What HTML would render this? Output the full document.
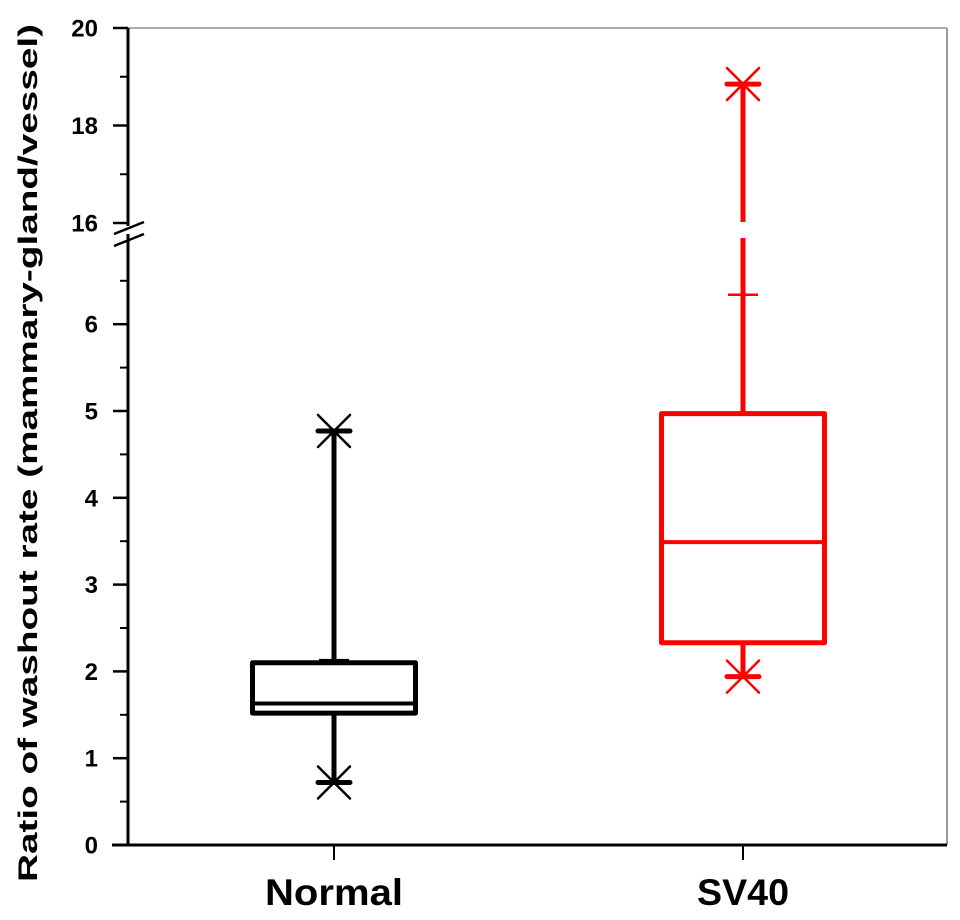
<!DOCTYPE html>
<html><head><meta charset="utf-8"><style>
html,body{margin:0;padding:0;background:#fff;}
svg{display:block;font-family:"Liberation Sans",Arial,sans-serif;}
</style></head><body>
<svg id="c" width="960" height="920" viewBox="0 0 960 920">
<g id="frame">
<line x1="128" y1="28" x2="947" y2="28" stroke="#aaa" stroke-width="2"/>
<line x1="947" y1="28" x2="947" y2="845" stroke="#999" stroke-width="2"/>
</g>
<g id="axes"></g>
<g id="marks"></g>
<text x="0" y="0" transform="translate(37,453) rotate(-90)" text-anchor="middle" font-size="27" font-weight="bold" textLength="858" lengthAdjust="spacingAndGlyphs">Ratio of washout rate (mammary-gland/vessel)</text>
</svg>
<script>
const categories=["Normal","SV40"];
const colors=["#000","#ff0000"];
const q1=[1.52,2.33];
const median=[1.63,3.49];
const q3=[2.1,4.97];
const whiskerLow=[0.72,1.94];
const whiskerHigh=[4.77,18.85];
const capMark=[2.13,6.34];
const lowTicks=[0,1,2,3,4,5,6];
const highTicks=[16,18,20];
const NS="http://www.w3.org/2000/svg";
function mk(tag,attrs,parent){const e=document.createElementNS(NS,tag);for(const k in attrs)e.setAttribute(k,attrs[k]);parent.appendChild(e);return e;}
const LOW_MAX=7, Y0=845, LOW_PX=86.8, HIGH_MIN=16, HIGH_Y16=223, HIGH_PX=48.75;
function y(v){return v<=LOW_MAX? Y0-v*LOW_PX : HIGH_Y16-(v-HIGH_MIN)*HIGH_PX;}
const xc=[334,743], boxW=163;
function x(i){return xc[i];}
const axes=document.getElementById('axes'), marks=document.getElementById('marks');
const AX=128;
let l=mk('line',{x1:AX,y1:y(0)+1,x2:AX,y2:234,stroke:'#000','stroke-width':3},axes);


l=mk('line',{x1:AX,y1:226,x2:AX,y2:y(20),stroke:'#000','stroke-width':3},axes);


l=mk('line',{x1:112,y1:y(0),x2:947,y2:y(0),stroke:'#000','stroke-width':3},axes);


[229,241].forEach(b=>{const e=mk('line',{x1:114,y1:b+5,x2:144,y2:b-7,stroke:'#000','stroke-width':2.5},axes);

});
function tick(v,label){
  const t=mk('line',{x1:AX-15,y1:y(v),x2:AX,y2:y(v),stroke:'#000','stroke-width':2.5},axes);
  
  
  const tx=mk('text',{x:98,y:y(v)+8.5,'text-anchor':'end','font-size':24,'font-weight':'bold'},axes);
  tx.textContent=label;
  
  
}
function minor(v){const t=mk('line',{x1:AX-8,y1:y(v),x2:AX,y2:y(v),stroke:'#000','stroke-width':2},axes);

}
lowTicks.forEach(v=>{tick(v,String(v));minor(v+0.5);});
highTicks.forEach(v=>{tick(v,String(v));if(v<20)minor(v+1);});
categories.forEach((c,i)=>{
  const t=mk('line',{x1:x(i),y1:y(0),x2:x(i),y2:y(0)+15,stroke:'#000','stroke-width':2},axes);
  
  
  const tx=mk('text',{x:x(i),y:905,'text-anchor':'middle','font-size':37,'font-weight':'bold'},axes);
  tx.textContent=c;
  tx.setAttribute('textLength', c.length*23);
  tx.setAttribute('lengthAdjust','spacingAndGlyphs');
  
  
});
function star(cx,cy,col,g){
  const r=16;
  [[-r,0,r,0,5],[-r,-r,r,r,2.5],[-r,r,r,-r,2.5]].forEach(s=>{
   const e=mk('line',{x1:cx+s[0],y1:cy+s[1],x2:cx+s[2],y2:cy+s[3],stroke:col,'stroke-width':s[4],'stroke-linecap':'round'},g);
   
   
  });
}
categories.forEach((c,i)=>{
  const col=colors[i];
  const g=mk('g',{},marks);
  
  
  const cx=x(i);
  const hi=y(whiskerHigh[i]);
  if(whiskerHigh[i]>LOW_MAX){
    let a=mk('line',{x1:cx,y1:y(q3[i]),x2:cx,y2:238,stroke:col,'stroke-width':5},g);
    
    
    a=mk('line',{x1:cx,y1:222,x2:cx,y2:hi,stroke:col,'stroke-width':5},g);
    
    
  } else {
    const a=mk('line',{x1:cx,y1:y(q3[i]),x2:cx,y2:hi,stroke:col,'stroke-width':5},g);
    
    
  }
  const b=mk('line',{x1:cx,y1:y(q1[i]),x2:cx,y2:y(whiskerLow[i]),stroke:col,'stroke-width':5},g);
  
  
  const cap=mk('line',{x1:cx-15,y1:y(capMark[i]),x2:cx+15,y2:y(capMark[i]),stroke:col,'stroke-width':2.5},g);
  
  
  const r=mk('rect',{x:cx-boxW/2,y:y(q3[i]),width:boxW,height:y(q1[i])-y(q3[i]),fill:'#fff',stroke:col,'stroke-width':5,'stroke-linejoin':'round'},g);
  
  
  const m=mk('line',{x1:cx-boxW/2,y1:y(median[i]),x2:cx+boxW/2,y2:y(median[i]),stroke:col,'stroke-width':4},g);
  
  
  star(cx,hi,col,g);
  star(cx,y(whiskerLow[i]),col,g);
});
</script>
</body></html>
